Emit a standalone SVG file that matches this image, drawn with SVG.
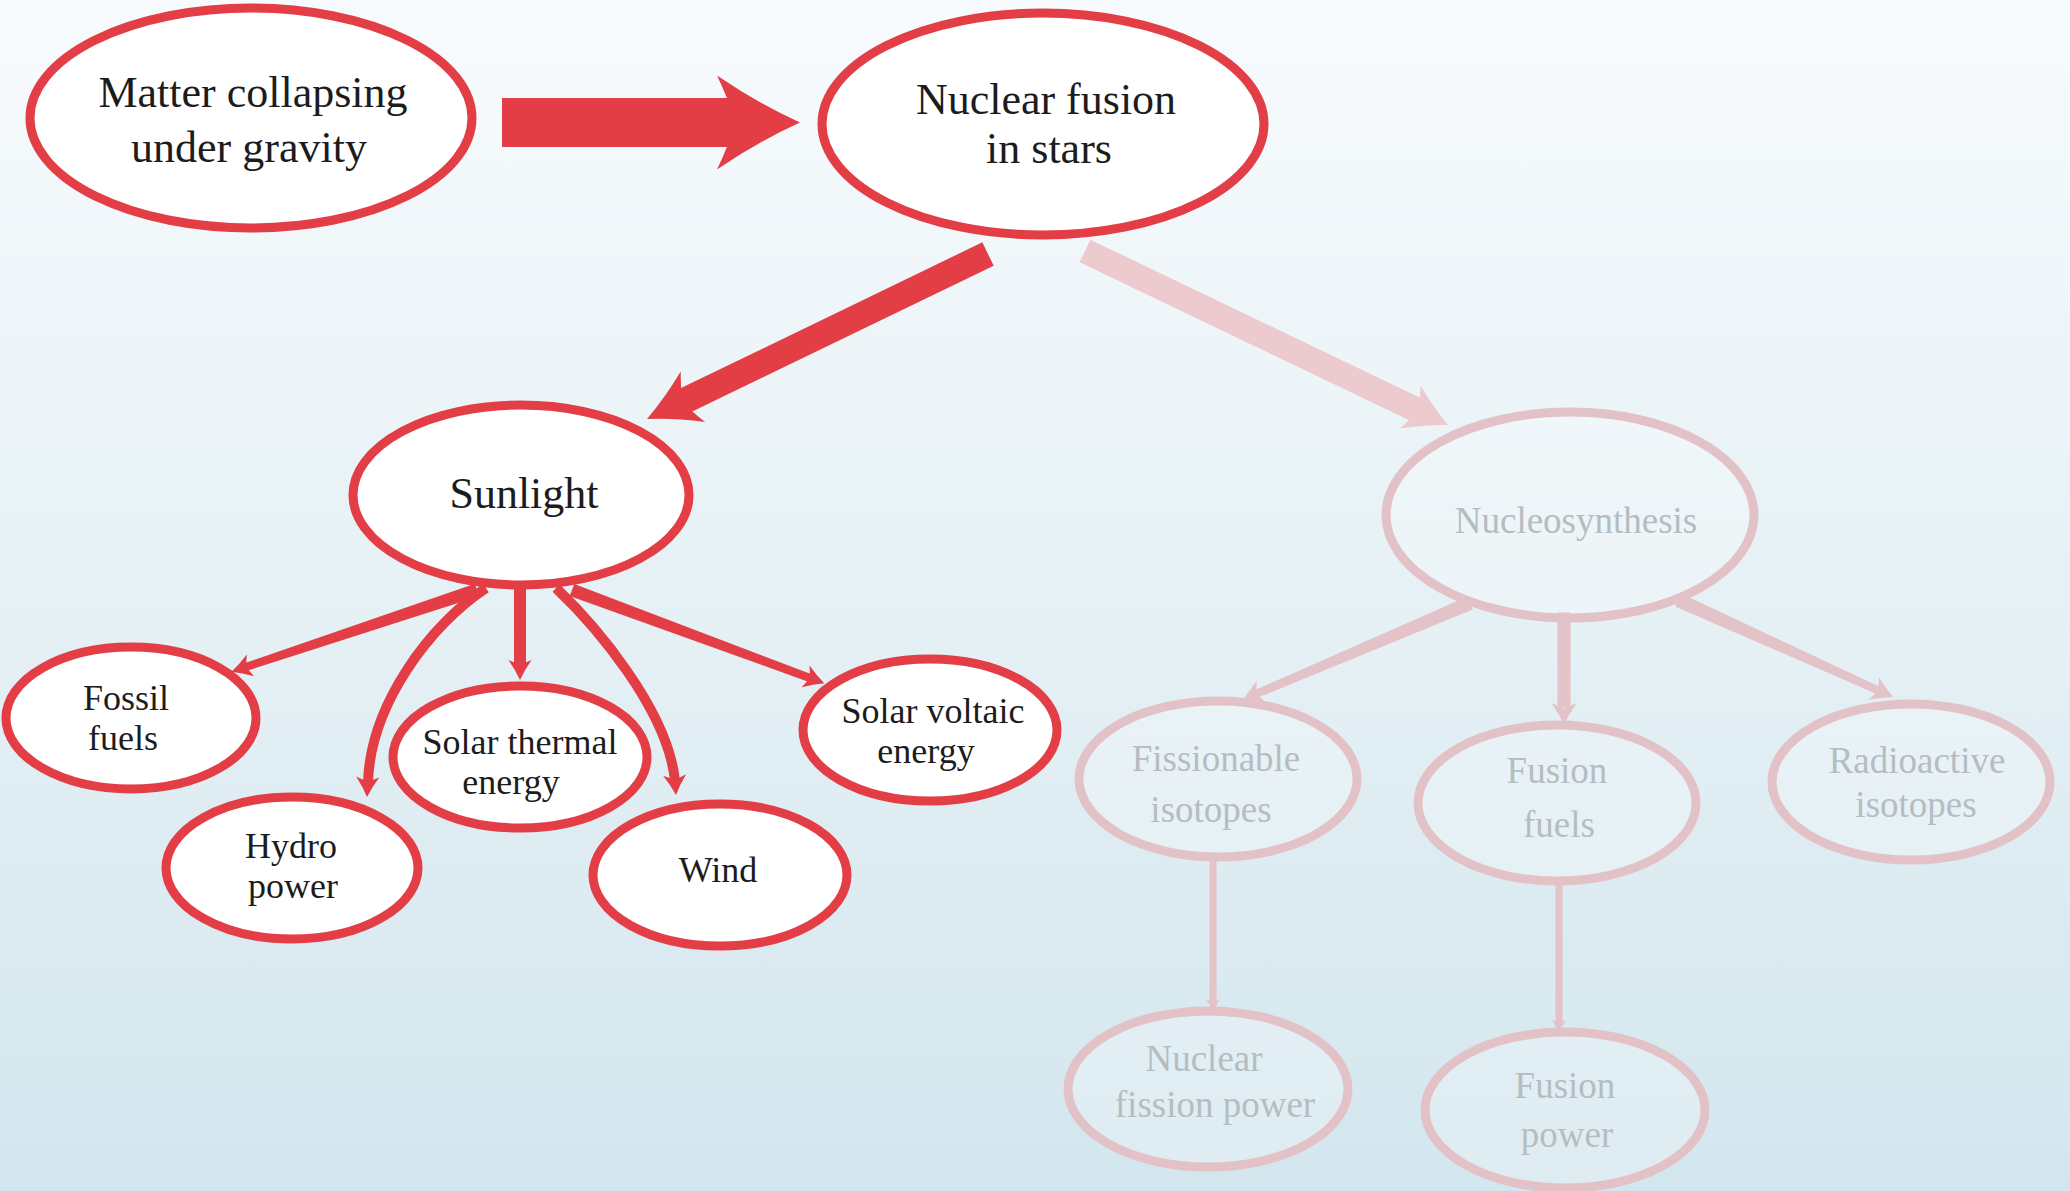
<svg xmlns="http://www.w3.org/2000/svg" xmlns:xlink="http://www.w3.org/1999/xlink" width="2070" height="1191" viewBox="0 0 2070 1191">
  <defs>
    <linearGradient id="bg" x1="0" y1="0" x2="0" y2="1">
      <stop offset="0" stop-color="#f8fbfd"/>
      <stop offset="0.5" stop-color="#e6f1f5"/>
      <stop offset="1" stop-color="#d3e6ee"/>
    </linearGradient>
    <!-- swept arrowhead: tip at origin, pointing +x, unit length and half-width -->
    <path id="ah" d="M0,0 Q-0.5,-0.4 -1,-1 Q-0.85,-0.45 -0.78,0 Q-0.85,0.45 -1,1 Q-0.5,0.4 0,0 Z"/>
    <style>
      .node-red ellipse { fill: #ffffff; stroke: #e33d46; stroke-width: 9; }
      .node-dim ellipse { fill: #ffffff; fill-opacity: 0.25; stroke: #e2c2c7; stroke-width: 9; }
      text { font-family: "Liberation Serif", "Times New Roman", serif; text-anchor: middle; }
      .big { font-size: 44px; fill: #1c1c1c; }
      .small { font-size: 36px; fill: #1c1c1c; }
      .dim { font-size: 37px; fill: #b4bdc1; }
      .red { fill: #e33d46; }
      .red-line { fill: none; stroke: #e33d46; }
      .pink { fill: #edcace; }
      .pink-line { fill: none; stroke: #edcace; }
      .rose { fill: #e4c3c8; }
      .rose-line { fill: none; stroke: #e4c3c8; }
    </style>
  </defs>

  <rect x="0" y="0" width="2070" height="1191" fill="url(#bg)"/>

  <g id="connectors">
    <!-- Matter collapsing -> Nuclear fusion -->
    <rect class="red" x="502" y="98" width="238" height="49"/>
    <use xlink:href="#ah" class="red" transform="translate(800,122.5) scale(83,47)"/>

    <!-- Nuclear fusion -> Sunlight -->
    <line class="red-line" x1="988" y1="254" x2="679.4" y2="403.3" stroke-width="26"/>
    <use xlink:href="#ah" class="red" transform="translate(647,419) rotate(154.2) scale(51,28)"/>

    <!-- Nuclear fusion -> Nucleosynthesis -->
    <line class="pink-line" x1="1085" y1="251" x2="1420.9" y2="412" stroke-width="25"/>
    <use xlink:href="#ah" class="pink" transform="translate(1448,425) rotate(25.6) scale(42,24)"/>

    <!-- Sunlight -> Fossil fuels -->
    <polygon class="red" points="474.9,583.8 244.4,663.2 247,670.8 479.1,596.2"/>
    <use xlink:href="#ah" class="red" transform="translate(231.5,671.7) rotate(161.6) scale(20,11.5)"/>

    <!-- Sunlight -> Hydro power -->
    <path class="red-line" d="M486,588 C430,625 370,705 368,783" stroke-width="10"/>
    <use xlink:href="#ah" class="red" transform="translate(367,797) rotate(92) scale(20,11.5)"/>

    <!-- Sunlight -> Solar thermal energy -->
    <line class="red-line" x1="520" y1="582" x2="520" y2="665" stroke-width="12"/>
    <use xlink:href="#ah" class="red" transform="translate(520,680) rotate(90) scale(20,11.5)"/>

    <!-- Sunlight -> Wind -->
    <path class="red-line" d="M556,588 C595,625 668,710 675,781" stroke-width="10"/>
    <use xlink:href="#ah" class="red" transform="translate(676,795) rotate(86) scale(20,11.5)"/>

    <!-- Sunlight -> Solar voltaic energy -->
    <polygon class="red" points="574.3,583.9 811.6,674.3 808.8,681.9 569.7,596.1"/>
    <use xlink:href="#ah" class="red" transform="translate(824.3,683.3) rotate(20.3) scale(20,11.5)"/>

    <!-- Nucleosynthesis -> Fissionable isotopes -->
    <polygon class="rose" points="1467.3,596.6 1254.2,690.4 1257.4,697.8 1472.7,609.4"/>
    <use xlink:href="#ah" class="rose" transform="translate(1242,700) rotate(157) scale(21,12)"/>

    <!-- Nucleosynthesis -> Fusion fuels -->
    <line class="rose-line" x1="1564" y1="612" x2="1564" y2="707" stroke-width="13"/>
    <use xlink:href="#ah" class="rose" transform="translate(1564,725) rotate(90) scale(22,12.5)"/>

    <!-- Nucleosynthesis -> Radioactive isotopes -->
    <polygon class="rose" points="1680.9,593.6 1880.9,687.2 1877.7,694.4 1675.1,606.4"/>
    <use xlink:href="#ah" class="rose" transform="translate(1893,697) rotate(24.3) scale(21,12.5)"/>

    <!-- Fissionable isotopes -> Nuclear fission power -->
    <line class="rose-line" x1="1213" y1="855" x2="1213" y2="1002" stroke-width="7"/>
    <use xlink:href="#ah" class="rose" transform="translate(1213,1012) rotate(90) scale(13,7)"/>

    <!-- Fusion fuels -> Fusion power -->
    <line class="rose-line" x1="1559" y1="880" x2="1559" y2="1023" stroke-width="7"/>
    <use xlink:href="#ah" class="rose" transform="translate(1559,1033) rotate(90) scale(13,7)"/>
  </g>

  <g id="matter-collapsing" class="node-red">
    <ellipse cx="251" cy="118" rx="221" ry="110"/>
    <text class="big" x="253" y="107">Matter collapsing</text>
    <text class="big" x="249" y="162">under gravity</text>
  </g>

  <g id="nuclear-fusion" class="node-red">
    <ellipse cx="1043" cy="124" rx="221" ry="111"/>
    <text class="big" x="1046" y="114">Nuclear fusion</text>
    <text class="big" x="1049" y="163">in stars</text>
  </g>

  <g id="sunlight" class="node-red">
    <ellipse cx="521" cy="495" rx="168" ry="90"/>
    <text class="big" x="524" y="508">Sunlight</text>
  </g>

  <g id="fossil-fuels" class="node-red">
    <ellipse cx="131" cy="718" rx="125" ry="71"/>
    <text class="small" x="126" y="710">Fossil</text>
    <text class="small" x="123" y="750">fuels</text>
  </g>

  <g id="hydro-power" class="node-red">
    <ellipse cx="292" cy="868" rx="126" ry="71"/>
    <text class="small" x="291" y="858">Hydro</text>
    <text class="small" x="293" y="898">power</text>
  </g>

  <g id="solar-thermal" class="node-red">
    <ellipse cx="520" cy="757" rx="127" ry="71"/>
    <text class="small" x="520" y="754">Solar thermal</text>
    <text class="small" x="511" y="794">energy</text>
  </g>

  <g id="wind" class="node-red">
    <ellipse cx="720" cy="875" rx="127" ry="71"/>
    <text class="small" x="718" y="882">Wind</text>
  </g>

  <g id="solar-voltaic" class="node-red">
    <ellipse cx="930" cy="730" rx="127" ry="71"/>
    <text class="small" x="933" y="723">Solar voltaic</text>
    <text class="small" x="926" y="763">energy</text>
  </g>

  <g id="nucleosynthesis" class="node-dim">
    <ellipse cx="1570" cy="515" rx="184" ry="103"/>
    <text class="dim" x="1576" y="533">Nucleosynthesis</text>
  </g>

  <g id="fissionable-isotopes" class="node-dim">
    <ellipse cx="1218" cy="779" rx="139" ry="78"/>
    <text class="dim" x="1216" y="771">Fissionable</text>
    <text class="dim" x="1211" y="822">isotopes</text>
  </g>

  <g id="fusion-fuels" class="node-dim">
    <ellipse cx="1557" cy="803" rx="139" ry="78"/>
    <text class="dim" x="1557" y="783">Fusion</text>
    <text class="dim" x="1559" y="837">fuels</text>
  </g>

  <g id="radioactive-isotopes" class="node-dim">
    <ellipse cx="1911" cy="782" rx="139" ry="78"/>
    <text class="dim" x="1917" y="773">Radioactive</text>
    <text class="dim" x="1916" y="817">isotopes</text>
  </g>

  <g id="nuclear-fission-power" class="node-dim">
    <ellipse cx="1208" cy="1089" rx="140" ry="78"/>
    <text class="dim" x="1204" y="1071">Nuclear</text>
    <text class="dim" x="1215" y="1117">fission power</text>
  </g>

  <g id="fusion-power" class="node-dim">
    <ellipse cx="1565" cy="1110" rx="140" ry="78"/>
    <text class="dim" x="1565" y="1098">Fusion</text>
    <text class="dim" x="1567" y="1147">power</text>
  </g>
</svg>
